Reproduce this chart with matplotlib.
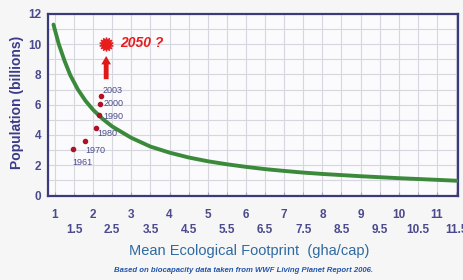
import matplotlib
matplotlib.use("Agg")
import matplotlib.pyplot as plt
from matplotlib.ticker import FixedLocator

# ---- data ----
curve_x = [0.96, 1.1, 1.25, 1.4, 1.6, 1.8, 2.0, 2.25, 2.5, 3.0, 3.5, 4.0, 4.5,
           5.0, 5.5, 6.0, 6.5, 7.0, 7.5, 8.0, 9.0, 10.0, 11.0, 11.52]
curve_y = [11.3, 10.0, 8.9, 7.95, 7.0, 6.25, 5.65, 5.05, 4.55, 3.8, 3.22, 2.82, 2.5,
           2.25, 2.05, 1.88, 1.73, 1.61, 1.5, 1.41, 1.26, 1.13, 1.02, 0.96]

years = ["1961", "1970", "1980", "1990", "2000", "2003"]
year_x = [1.48, 1.785, 2.07, 2.16, 2.19, 2.2]
year_y = [3.05, 3.6, 4.46, 5.34, 6.05, 6.6]

future_label = "2050 ?"
future_x = 2.33
future_y = 10.0
arrow_from = (2.34, 7.5)
arrow_to = (2.34, 9.4)

major_xticks = [1, 2, 3, 4, 5, 6, 7, 8, 9, 10, 11]
minor_xticks = [1.5, 2.5, 3.5, 4.5, 5.5, 6.5, 7.5, 8.5, 9.5, 10.5, 11.5]
yticks = [0, 2, 4, 6, 8, 10, 12]

xlabel = "Mean Ecological Footprint  (gha/cap)"
ylabel = "Population (billions)"
footnote = "Based on biocapacity data taken from WWF Living Planet Report 2006."

plt.rcParams['font.family'] = ['Liberation Sans', 'DejaVu Sans']

navy = '#4a4a8c'
fig = plt.figure(figsize=(4.63, 2.80), dpi=100, facecolor='#f6f6f6')
ax = fig.add_axes([48/463, 1-196/280, 410/463, 182/280])
ax.set_facecolor('#fbfbfd')

ax.set_xlim(0.817, 11.55)
ax.set_ylim(-0.05, 12)

# grid
for gx in [0.5*i for i in range(2, 24)]:
    ax.axvline(gx, color='#d6d6de', lw=0.8, zorder=0)
for gy in range(1, 12):
    ax.axhline(gy, color='#d6d6de', lw=0.8, zorder=0)

ax.plot(curve_x, curve_y, color='#3b8a3b', lw=2.8, solid_capstyle='round', zorder=3)

ax.scatter(year_x, year_y, s=9, color='#b0102a', zorder=4)
offsets = [(-1, -13), (0, -10), (1, -6), (4, -2), (3, 0), (2, 5)]
for lab, x, y, off in zip(years, year_x, year_y, offsets):
    ax.annotate(lab, (x, y), xytext=off, textcoords='offset pixels',
                ha='left', va='center', fontsize=6.5, color=navy, zorder=5)

# arrow and star
ax.annotate('', xy=arrow_to, xytext=arrow_from,
            arrowprops=dict(arrowstyle='simple,head_length=0.6,head_width=0.7,tail_width=0.35',
                            color='#e01818', lw=0), zorder=5)
ax.plot([future_x], [future_y], marker=(14, 1, 0), markersize=10, color='#e81c1c',
        markeredgecolor='#e81c1c', zorder=6)
ax.plot([future_x], [future_y], marker='o', markersize=6, color='#e81c1c', zorder=6)
ax.text(2.7, 10.05, future_label, color='#e81c1c', fontsize=10, fontweight='bold',
        fontstyle='italic', ha='left', va='center', zorder=6)

# ticks
ax.xaxis.set_major_locator(FixedLocator(major_xticks))
ax.xaxis.set_minor_locator(FixedLocator(minor_xticks))
ax.set_xticklabels([str(t) for t in major_xticks])
ax.set_xticklabels([str(t) for t in minor_xticks], minor=True)
ax.tick_params(axis='x', which='major', direction='in', length=3, color='#a8a8c0',
               pad=9, labelsize=8.5, labelcolor=navy)
ax.tick_params(axis='x', which='minor', direction='in', length=3, color='#a8a8c0',
               pad=20, labelsize=8.5, labelcolor=navy)
for lbl in ax.get_xticklabels() + ax.get_xticklabels(minor=True):
    lbl.set_fontweight('bold')
ax.set_yticks(yticks)
ax.tick_params(axis='y', length=0, pad=5, labelsize=8.5, labelcolor=navy)
for lbl in ax.get_yticklabels():
    lbl.set_fontweight('bold')

for sp in ax.spines.values():
    sp.set_color('#3b3b7a')
    sp.set_linewidth(1.6)

fig.text(17/463, 1-102/280, ylabel, rotation=90, ha='center', va='center',
         fontsize=10, fontweight='bold', color='#3b3b8a')
fig.text(249/463, 1-251/280, xlabel, ha='center', va='center',
         fontsize=10.5, color='#2f6aa0')
fig.text(244/463, 1-271/280, footnote, ha='center', va='center',
         fontsize=5.6, fontweight='bold', fontstyle='italic', color='#2255aa')

fig.savefig('out.png', dpi=100, facecolor=fig.get_facecolor())
